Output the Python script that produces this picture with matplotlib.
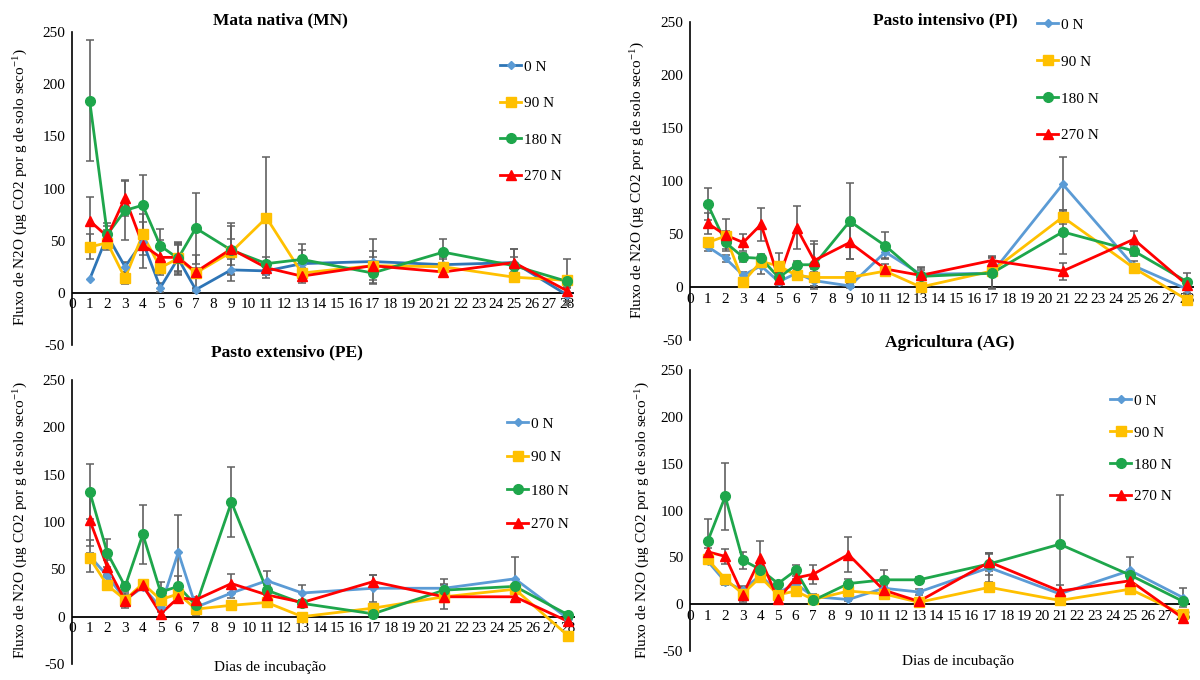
import numpy as np
import matplotlib
matplotlib.use('Agg')
import matplotlib.pyplot as plt
from matplotlib.lines import Line2D

plt.rcParams['font.family'] = ['Liberation Serif', 'DejaVu Serif']
plt.rcParams['mathtext.fontset'] = 'stix'
plt.rcParams['axes.unicode_minus'] = False

dias = [1, 2, 3, 4, 5, 6, 7, 9, 11, 13, 17, 21, 25, 28]
doses = ['0 N', '90 N', '180 N', '270 N']

# Mata nativa (MN) - media e desvio para 0, 90, 180, 270 N
mn_media = [
    [13, 55, 25, 49, 5, 33, 3, 22, 21, 28, 30, 27, 29, -2],
    [44, 48, 14, 56, 24, 33, 19, 39, 72, 19, 26, 25, 15, 12],
    [184, 56, 79, 84, 45, 33, 62, 41, 28, 32, 19, 39, 26, 11],
    [69, 54, 91, 46, 34, 34, 20, 42, 24, 16, 26, 20, 29, 2],
]
mn_erro = [
    [0, 5, 5, 5, 4, 13, 2, 5, 4, 13, 22, 5, 13, 10],
    [12, 5, 6, 20, 5, 16, 5, 28, 58, 5, 8, 9, 5, 20],
    [58, 8, 28, 29, 16, 15, 34, 23, 6, 15, 10, 13, 16, 5],
    [23, 13, 17, 22, 17, 13, 16, 10, 6, 7, 14, 5, 5, 3],
]

# Pasto intensivo (PI)
pi_media = [
    [38, 27, 11, 20, 5, 13, 6, 1, 33, 12, 13, 97, 20, -2],
    [42, 48, 5, 24, 20, 11, 9, 9, 15, 0, 15, 66, 18, -12],
    [78, 42, 28, 27, 9, 21, 21, 62, 39, 10, 13, 52, 34, 5],
    [60, 49, 42, 59, 8, 56, 25, 42, 17, 11, 25, 15, 45, 2],
]
pi_erro = [
    [4, 3, 3, 8, 3, 3, 8, 2, 6, 4, 15, 26, 5, 4],
    [4, 5, 3, 4, 12, 3, 8, 5, 4, 2, 3, 7, 3, 5],
    [15, 6, 4, 4, 5, 4, 20, 36, 13, 8, 14, 21, 5, 8],
    [10, 15, 8, 16, 5, 20, 18, 16, 5, 8, 4, 8, 8, 3],
]

# Pasto extensivo (PE)
pe_media = [
    [64, 43, 18, 31, 10, 68, 10, 25, 38, 25, 30, 30, 40, -2],
    [62, 33, 18, 35, 18, 24, 8, 12, 15, 0, 9, 21, 29, -20],
    [132, 67, 32, 87, 26, 32, 12, 121, 28, 14, 3, 28, 32, 2],
    [102, 52, 17, 33, 3, 20, 18, 35, 23, 15, 37, 21, 21, -5],
]
pe_erro = [
    [17, 5, 5, 3, 5, 39, 8, 5, 10, 8, 14, 10, 23, 3],
    [5, 3, 3, 3, 3, 3, 3, 3, 3, 2, 3, 5, 3, 3],
    [29, 15, 5, 31, 11, 11, 3, 37, 5, 4, 3, 5, 3, 3],
    [27, 8, 8, 3, 3, 5, 3, 10, 4, 3, 7, 13, 3, 3],
]

# Agricultura (AG)
ag_media = [
    [46, 24, 15, 31, 12, 22, 8, 5, 17, 13, 39, 11, 36, 7],
    [48, 27, 11, 29, 10, 14, 5, 14, 11, 2, 18, 4, 16, -11],
    [67, 115, 47, 37, 22, 36, 4, 22, 26, 26, 43, 64, 31, 3],
    [56, 51, 10, 49, 5, 28, 32, 53, 15, 3, 45, 14, 25, -15],
]
ag_erro = [
    [3, 4, 4, 5, 4, 5, 3, 2, 5, 3, 15, 4, 14, 10],
    [3, 3, 3, 3, 3, 3, 3, 3, 3, 2, 3, 3, 3, 3],
    [24, 36, 9, 5, 3, 6, 3, 5, 11, 3, 12, 53, 5, 3],
    [4, 8, 8, 18, 3, 5, 10, 19, 4, 3, 10, 6, 5, 3],
]

titulos = ['Mata nativa (MN)', 'Pasto intensivo (PI)',
           'Pasto extensivo (PE)', 'Agricultura (AG)']

cores = ['#5B9BD5', '#FFC000', '#1EA64B', '#FF0000']
marcadores = ['D', 's', 'o', '^']
tam_marc = [4, 6.5, 7, 7]

W, H = 1200, 680
fig = plt.figure(figsize=(W / 100, H / 100), dpi=100)

# posicoes em pixels: x do dia 0, x do dia 28, y de 250, y de -50
paineis = [
    dict(media=mn_media, erro=mn_erro, caixa=(72, 567, 32, 345),
         titulo=(280, 20), leg=(500, 69, 38), ylab=(20, 187), xlab=None,
         linha0='#2E75B6'),
    dict(media=pi_media, erro=pi_erro, caixa=(690, 1187, 22, 340),
         titulo=(945, 20), leg=(1037, 27, 38.5), ylab=(637, 180), xlab=None,
         linha0=None),
    dict(media=pe_media, erro=pe_erro, caixa=(72, 568, 380, 664),
         titulo=(287, 352), leg=(507, 426, 35), ylab=(20, 520), xlab=(270, 668),
         linha0=None),
    dict(media=ag_media, erro=ag_erro, caixa=(690, 1183, 370, 651),
         titulo=(950, 343), leg=(1110, 403, 33.5), ylab=(642, 520), xlab=(958, 661),
         linha0=None),
]

ylabel = r'Fluxo de N2O (µg CO2 por g de solo seco$^{\mathregular{-1}}$)'

for p, titulo in zip(paineis, titulos):
    x0, x28, y250, ym50 = p['caixa']
    passo = (x28 - x0) / 28
    xr = x0 + 28.4 * passo
    ax = fig.add_axes([x0 / W, 1 - ym50 / H, (xr - x0) / W, (ym50 - y250) / H])
    ax.set_xlim(0, 28.4)
    ax.set_ylim(-50, 250)
    ax.patch.set_alpha(0)

    handles = []
    for i in range(4):
        cor_linha = cores[i]
        if i == 0 and p['linha0']:
            cor_linha = p['linha0']
        m = np.array(p['media'][i], dtype=float)
        e = np.array(p['erro'][i], dtype=float)
        d = np.array(dias)
        ok = e > 0
        ax.errorbar(d[ok], m[ok], yerr=e[ok], fmt='none', ecolor='#606060',
                    elinewidth=1.2, capsize=3, capthick=1.1, zorder=2)
        ax.plot(d, m, color=cor_linha, lw=2, zorder=3)
        ax.plot(d, m, ls='none', marker=marcadores[i], ms=tam_marc[i],
                color=cores[i], mec=cores[i], zorder=4)
        handles.append(Line2D([], [], color=cor_linha, lw=2, marker=marcadores[i],
                              ms=tam_marc[i], mfc=cores[i], mec=cores[i]))

    ax.axhline(0, color='black', lw=1.3, zorder=1)
    for s in ['top', 'right', 'bottom']:
        ax.spines[s].set_visible(False)
    ax.spines['left'].set_linewidth(1.2)
    ax.set_xticks(range(0, 29))
    ax.set_yticks(range(-50, 251, 50))
    ax.tick_params(axis='x', length=0, pad=4, labelsize=11)
    ax.tick_params(axis='y', length=0, pad=5, labelsize=11)
    # rotulos do eixo x logo abaixo da linha do zero
    for lab in ax.get_xticklabels():
        lab.set_y(50 / 300)

    xl, yl, dy = p['leg']
    fs = 11
    ax.legend(handles, doses, loc='upper left', frameon=False, fontsize=fs,
              bbox_to_anchor=(xl / W, 1 - (yl - 9) / H), bbox_transform=fig.transFigure,
              borderpad=0, borderaxespad=0, handlelength=1.4, handletextpad=0.15,
              labelspacing=(dy / (fs * 100 / 72)) - 1.0, numpoints=1)

    tx, ty = p['titulo']
    fig.text(tx / W, 1 - ty / H, titulo, ha='center', va='center',
             fontsize=12.5, fontweight='bold')
    lx, ly = p['ylab']
    fig.text(lx / W, 1 - ly / H, ylabel, ha='center', va='center',
             rotation=90, fontsize=11)
    if p['xlab']:
        fig.text(p['xlab'][0] / W, 1 - p['xlab'][1] / H, 'Dias de incubação',
                 ha='center', va='center', fontsize=11)

fig.savefig('out.png', dpi=100)
